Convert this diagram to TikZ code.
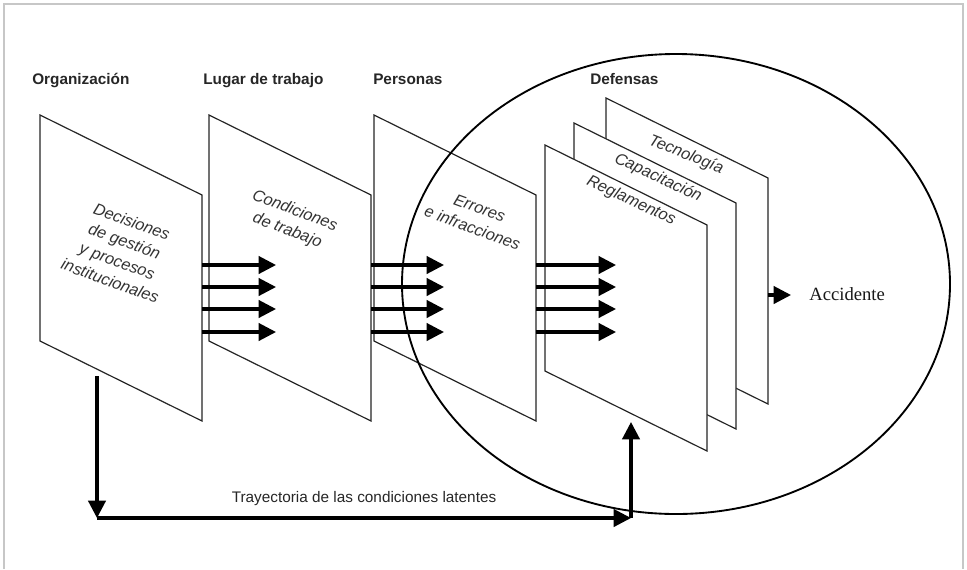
\documentclass[tikz,border=0pt]{standalone}
\usepackage{fontspec}
\setmainfont{Liberation Sans}
\newfontfamily\accfont{Liberation Serif}
\usetikzlibrary{arrows.meta}
\tikzset{
  sheet/.style={draw=black!85, line width=0.9pt, fill=white, line join=miter},
  plate/.pic={\path[sheet] (0,0) coordinate (-tl) -- (162,80) coordinate (-tr)
      -- (162,306) coordinate (-br) -- (0,226) coordinate (-bl) -- cycle;},
  flow/.style={line width=2.3pt, draw=black, -{Triangle[length=13pt,width=13pt]}},
  lab/.style={font=\fontsize{11.5}{14}\selectfont\bfseries, text=black!85, inner sep=0pt},
  tilt/.style={font=\fontsize{12.2}{15.8}\selectfont\itshape, text=black!80, inner sep=0pt, align=center},
  plain/.style={font=\fontsize{11.5}{14}\selectfont, text=black!85, inner sep=0pt},
}
\begin{document}
\begin{tikzpicture}[x=0.75pt,y=-0.75pt]
\useasboundingbox (0,0) rectangle (967,569);
% frame
\draw[black!22, line width=1.5pt] (4,569) -- (4,4) -- (963,4) -- (963,569);
% sheets
\pic (p1) at (40,115) {plate};
\pic (p2) at (209,115) {plate};
\pic (p3) at (374,115) {plate};
\pic (tecp) at (606,98) {plate};
\pic (capp) at (574,123) {plate};
\pic (regp) at (545,145) {plate};
% defence ellipse
\draw[black, line width=1.4pt] (676,284) ellipse [x radius=274, y radius=230];
% flow arrows
\foreach \xs/\xe/\g in {202/276/1, 371/444/2, 536/616/3} {
  \foreach \y [count=\i] in {265,287,309,332} {
    \coordinate (s\g\i) at (\xs,\y);
    \coordinate (e\g\i) at (\xe,\y);
    \draw[flow] (s\g\i) -- (e\g\i);
  }
}
% labels
\node[lab, anchor=base west] (org) at (32,84) {Organización};
\node[lab, anchor=base west] (lug) at (203,84) {Lugar de trabajo};
\node[lab, anchor=base west] (per) at (373,84) {Personas};
\node[lab, anchor=base west] (def) at (590,84) {Defensas};
\node[tilt, rotate=-20] (dec) at (121,251) {Decisiones\\de gestión\\y procesos\\institucionales};
\node[tilt, rotate=-21] (cond) at (291,221) {Condiciones\\de trabajo};
\node[tilt, rotate=-20] (err) at (476,218) {Errores\\e infracciones};
\node[tilt, rotate=-22] (tec) at (686,155) {Tecnología};
\node[tilt, rotate=-25] (cap) at (658,178) {Capacitación};
\node[tilt, rotate=-25] (reg) at (631,201) {Reglamentos};
\node[font=\accfont\fontsize{14}{16}\selectfont, text=black!90, anchor=base west, inner sep=0pt] (acc) at (809,300) {Accidente};
\coordinate (a0) at (768,295);
\coordinate (a1) at (791,295);
\draw[flow] (a0) -- (a1);
% latent conditions path
\coordinate (l0) at (97,376);
\coordinate (l1) at (97,518);
\coordinate (l2) at (631,518);
\coordinate (l3) at (631,422);
\draw[flow] (l0) -- (l1);
\draw[flow] (l1) -- (l2);
\draw[flow] (l2) -- (l3);
\node[plain, anchor=base] (tray) at (364,502) {Trayectoria de las condiciones latentes};
\end{tikzpicture}
\end{document}
